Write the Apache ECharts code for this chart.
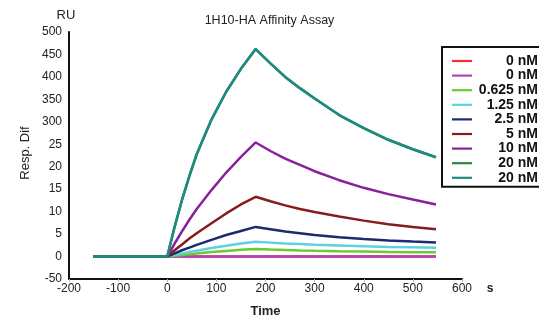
<!DOCTYPE html>
<html>
<head>
<meta charset="utf-8">
<script src="https://cdn.jsdelivr.net/npm/echarts@6/dist/echarts.min.js"></script>
<style>
  html, body { margin: 0; padding: 0; background: #fff; }
  #chart { width: 539px; height: 321px; }
</style>
</head>
<body>
<div id="chart"></div>
<script>
const FONT = "'Liberation Sans', Arial, sans-serif";
const TEXT = "#222";

// time points (s)
const TIME = [-150, 0, 15, 30, 45, 60, 90, 120, 150, 180, 210, 240, 270, 300, 350, 400, 450, 500, 547];

// response (RU) per concentration
const RESP_0A = [0, 0, 0, 0, 0, 0, 0, 0, 0, 0, 0, 0, 0, 0, 0, 0, 0, 0, 0];
const RESP_0B = [0, 0, 0, 0, 0, 0, 0, 0, 0, 0, 0, 0, 0, 0, 0, 0, 0, 0, 0];
const RESP_0625 = [0, 0, 0.18, 0.35, 0.52, 0.7, 1.0, 1.25, 1.5, 1.67, 1.55, 1.45, 1.35, 1.28, 1.18, 1.1, 1.03, 0.97, 0.93];
const RESP_125 = [0, 0, 0.35, 0.7, 1.0, 1.3, 1.9, 2.4, 2.9, 3.3, 3.1, 2.9, 2.8, 2.6, 2.45, 2.3, 2.15, 2.05, 1.96];
const RESP_25 = [0, 0, 0.7, 1.4, 2.0, 2.6, 3.7, 4.8, 5.7, 6.6, 6.1, 5.6, 5.2, 4.8, 4.3, 3.9, 3.6, 3.35, 3.15];
const RESP_5 = [0, 0, 1.4, 2.7, 4.0, 5.2, 7.4, 9.6, 11.6, 13.3, 12.3, 11.4, 10.6, 9.9, 8.9, 8.0, 7.2, 6.6, 6.1];
const RESP_10 = [0, 0, 2.9, 5.6, 8.2, 10.6, 14.8, 18.7, 22.2, 25.4, 23.5, 21.8, 20.4, 19.0, 17.0, 15.3, 13.9, 12.7, 11.6];
const RESP_20A = [0, 0, 6.6, 12.6, 17.9, 22.8, 30.5, 36.7, 41.8, 46.2, 43.0, 40.0, 37.5, 35.2, 31.5, 28.6, 26.0, 23.9, 22.1];
const RESP_20B = [0, 0, 6.6, 12.6, 17.9, 22.8, 30.5, 36.7, 41.8, 46.2, 43.0, 40.0, 37.5, 35.2, 31.5, 28.6, 26.0, 23.9, 22.1];

const LABELS = ["0 nM", "0 nM", "0.625 nM", "1.25 nM", "2.5 nM", "5 nM", "10 nM", "20 nM", "20 nM"];
const COLORS = ["#ff2a2a", "#b444b8", "#6acb2c", "#5fd0e2", "#1c2a6e", "#861c1c", "#8a1f9c", "#23893c", "#1f8a82"];
const VALUES = [RESP_0A, RESP_0B, RESP_0625, RESP_125, RESP_25, RESP_5, RESP_10, RESP_20A, RESP_20B];

// y tick labels as printed on the original axis (bottom to top)
const Y_TICKS = ["-50", "0", "5", "10", "15", "20", "25", "300", "350", "400", "450", "500"];

const chart = echarts.init(document.getElementById("chart"), null, { renderer: "canvas" });

chart.setOption({
  animation: false,
  backgroundColor: "#fff",
  title: {
    text: "1H10-HA Affinity Assay",
    left: "center",
    top: 9,
    textStyle: { fontFamily: FONT, fontSize: 12.5, fontWeight: "normal", color: TEXT },
  },
  legend: {
    orient: "vertical",
    left: 442,
    top: 47,
    padding: [7, 8, 2, 10],
    icon: "rect",
    itemWidth: 20,
    itemHeight: 2.2,
    itemGap: 0.6,
    borderColor: "#111",
    borderWidth: 2,
    selectedMode: false,
    formatter: (name) => "{a|" + LABELS[Number(name.split("#")[1])] + "}",
    textStyle: {
      fontFamily: FONT,
      rich: { a: { width: 61, align: "right", fontFamily: FONT, fontSize: 14, fontWeight: "bold", color: "#111", lineHeight: 14.6 } },
    },
  },
  grid: { left: 69, right: 77, top: 32, bottom: 42, outerBoundsMode: "none" },
  xAxis: {
    type: "value",
    min: -200,
    max: 600,
    interval: 100,
    name: "Time",
    nameLocation: "middle",
    nameGap: 26,
    nameTextStyle: { fontFamily: FONT, fontSize: 13, fontWeight: "bold", color: TEXT },
    axisLine: { onZero: false, lineStyle: { color: "#111", width: 2 } },
    axisTick: { show: true, length: 3, lineStyle: { color: "#bbb" } },
    axisLabel: { fontFamily: FONT, fontSize: 12, color: TEXT, margin: 4 },
    splitLine: { show: false },
  },
  yAxis: {
    type: "value",
    min: -5,
    max: 50,
    interval: 5,
    axisLine: { show: true, onZero: false, lineStyle: { color: "#111", width: 2 } },
    axisTick: { show: false },
    axisLabel: {
      fontFamily: FONT,
      fontSize: 12,
      color: TEXT,
      margin: 7,
      formatter: (v) => Y_TICKS[Math.round((v + 5) / 5)],
    },
    splitLine: { show: false },
  },
  graphic: [
    {
      type: "text",
      x: 66,
      y: 15,
      style: { text: "RU", font: "13px " + FONT, fill: TEXT, align: "center", verticalAlign: "middle" },
    },
    {
      type: "text",
      x: 25,
      y: 153,
      rotation: Math.PI / 2,
      style: { text: "Resp. Dif", font: "13px " + FONT, fill: TEXT, align: "center", verticalAlign: "middle" },
    },
    {
      type: "text",
      x: 490,
      y: 289,
      style: { text: "s", font: "bold 12px " + FONT, fill: TEXT, align: "center", verticalAlign: "middle" },
    },
  ],
  series: VALUES.map((vals, i) => ({
    name: LABELS[i] + "#" + i,
    type: "line",
    symbol: "none",
    data: TIME.map((t, k) => [t, vals[k]]),
    lineStyle: { color: COLORS[i], width: 2.5 },
    itemStyle: { color: COLORS[i] },
    z: 2 + i,
  })),
});
</script>
</body>
</html>
